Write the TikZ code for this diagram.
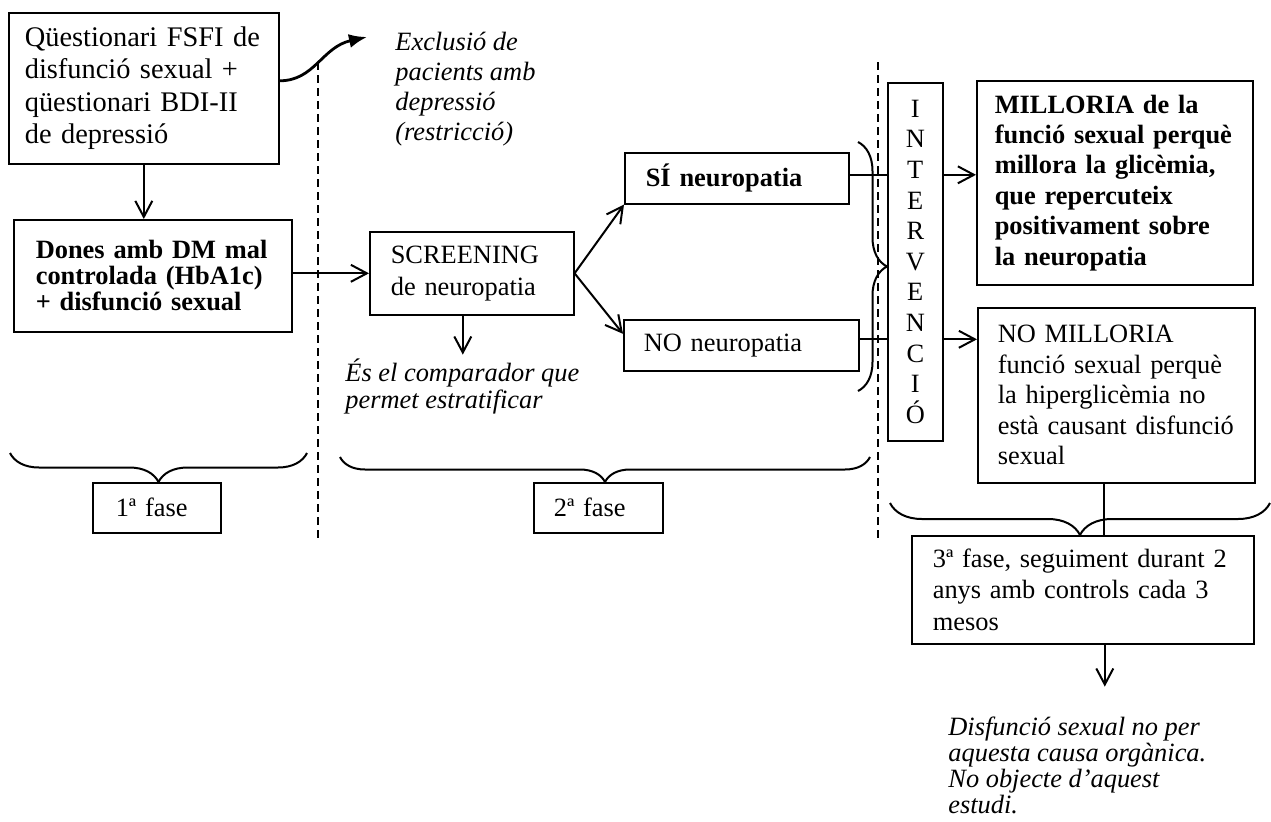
\documentclass[tikz,border=0pt]{standalone}
\usepackage{fontspec}
\setmainfont{Liberation Serif}
\usetikzlibrary{arrows.meta, decorations.pathreplacing}

\begin{document}
\begin{tikzpicture}[x=0.5pt, y=-0.5pt,
    box/.style={draw, line width=0.8pt, align=left, anchor=north west, inner xsep=10pt, inner ysep=0pt,
        execute at begin node={\hyphenpenalty=10000}, font=\fontsize{13.2}{#1}\selectfont},
    box/.default=15.3,
    note/.style={align=left, anchor=base west, inner sep=0pt, font=\fontsize{13.2}{#1}\selectfont\itshape},
    flow/.style={line width=1pt, -{Straight Barb[length=8pt,width=8.5pt]}},
    link/.style={line width=1pt},
    fasebrace/.style={line width=1pt, decorate, decoration={brace, mirror, amplitude=#1}},
    divider/.style={line width=0.8pt, dash pattern=on 4pt off 2.5pt}]

    \useasboundingbox (0,0) rectangle (1271,821);

    % --- Phase dividers ---
    \draw[divider] (318,62) -- (318,542);
    \draw[divider] (878,62) -- (878,540);

    % --- 1a fase ---
    \node[box, inner xsep=8pt, text width=119pt, minimum height=75.5pt, font=\fontsize{14.2}{16.2}\selectfont] (qst) at (8,12)
        {Qüestionari FSFI de\\disfunció sexual +\\qüestionari BDI-II\\de depressió};
    \node[box, inner xsep=11pt, text width=117pt, minimum height=56pt, font=\fontsize{13.2}{13}\selectfont\bfseries] (dones) at (13,219)
        {Dones amb DM mal\\controlada (HbA1c)\\+ disfunció sexual};
    % last line sits on the base anchor
    \node[note=15] (excl) at (395,140) {Exclusió de\\pacients amb\\depressió\\(restricció)};

    \draw[flow] (qst.south) -- (qst.south |- dones.north);
    \draw[line width=1.4pt, -{Latex[length=9pt,width=7pt]}] ([yshift=3.75pt]qst.east)
        .. controls +(35,0) and +(-45,10) .. ([xshift=-14pt,yshift=51.5pt]excl.base west);

    % --- 2a fase ---
    \node[box=16, inner xsep=10.5pt, text width=81pt, minimum height=41.5pt] (scr) at (369,231)
        {SCREENING\\de neuropatia};
    \node[note=13.3] (comp) at (345,408) {És el comparador que\\permet estratificar};
    \node[box, inner xsep=10.5pt, text width=91pt, minimum height=25.5pt] (si) at (624,152)
        {\textbf{SÍ neuropatia}};
    \node[box, text width=97.5pt, minimum height=25.5pt] (no) at (623,319) {NO neuropatia};

    \draw[flow] (dones.east |- scr.west) -- (scr.west);
    \draw[flow] ([xshift=-4.5pt]scr.south) -- ++(0,39);
    \draw[flow] (scr.east) -- (si.south west);
    \draw[flow] (scr.east) -- ([yshift=5.75pt]no.west);

    % --- Intervencio ---
    \node[box=15.3, align=center, inner xsep=0pt, text width=27.5pt, minimum height=179pt] (interv) at (887,82)
        {I\\N\\T\\E\\R\\V\\E\\N\\C\\I\\Ó};
    \coordinate (siout) at ([yshift=1.75pt]si.east);
    \coordinate (noout) at ([yshift=3pt]no.east);
    \draw[link] (siout) -- (siout -| interv.west);
    \draw[link] (noout) -- (noout -| interv.west);
    \draw[fasebrace=14.5pt] (858,391) -- (858,142);

    % --- Resultats ---
    \node[box, inner xsep=9pt, text width=120pt, minimum height=102pt, font=\fontsize{13.2}{15.2}\selectfont\bfseries] (mill) at (976,80)
        {MILLORIA de la\\funció sexual perquè\\millora la glicèmia,\\que repercuteix\\positivament sobre\\la neuropatia};
    \node[box=15.25, text width=118.5pt, minimum height=87.5pt] (nomill) at (977,307)
        {NO MILLORIA\\funció sexual perquè\\la hiperglicèmia no\\està causant disfunció\\sexual};

    \draw[flow] (siout -| interv.east) -- (siout -| mill.west);
    \draw[flow] (noout -| interv.east) -- (noout -| nomill.west);

    % --- 3a fase ---
    \node[box=15.75, inner xsep=10.5pt, text width=150pt, minimum height=54pt] (fase3) at (911,535)
        {3ª fase, seguiment durant 2\\anys amb controls cada 3\\mesos};
    \node[note=13] (disf) at (948,813)
        {Disfunció sexual no per\\aquesta causa orgànica.\\No objecte d’aquest\\estudi.};

    \draw[link] ([xshift=-6pt]nomill.south) -- ([xshift=-6pt]nomill.south |- fase3.north);
    \draw[flow] ([xshift=11pt]fase3.south) -- ++(0,42);
    \draw[fasebrace=16pt] (890,503) -- (1270,503);

    % --- Phase labels ---
    \node[box, inner xsep=11.5pt, text width=41pt, minimum height=25pt] (fase1) at (92,482) {1ª fase};
    \node[box, text width=44.5pt, minimum height=25pt] (fase2) at (533,482) {2ª fase};
    \draw[fasebrace=14.5pt] (10,453) -- (307,453);
    \draw[fasebrace=12.5pt] (340,457) -- (870,457);

\end{tikzpicture}
\end{document}
